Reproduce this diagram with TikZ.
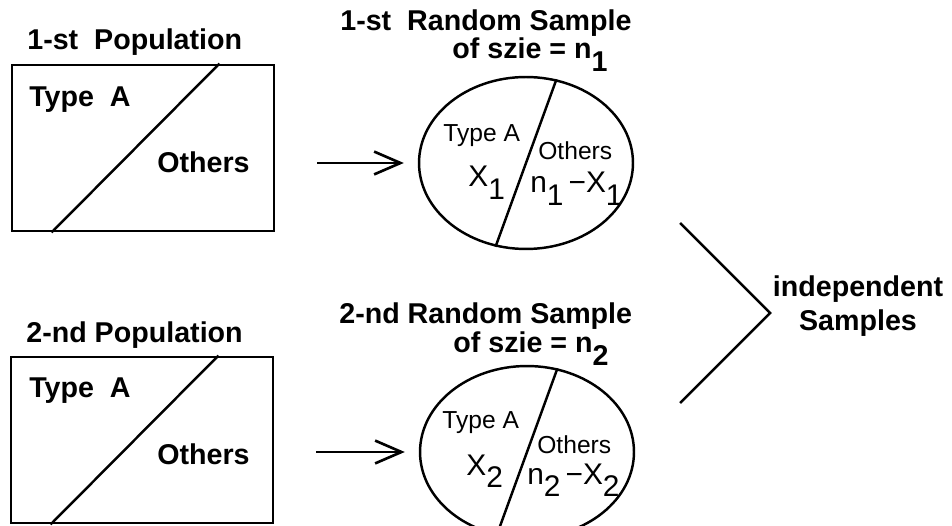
\documentclass[tikz,border=0pt]{standalone}
\usepackage{fontspec}
\setmainfont{Liberation Sans}
\usetikzlibrary{arrows.meta, positioning, shapes.geometric}
\newcommand{\lowidx}[1]{\raisebox{-0.42em}{#1}}

\begin{document}
\begin{tikzpicture}[
      x=0.02cm, y=-0.02cm,
      popbox/.style={draw, line width=1.6pt, minimum width=5.24cm, minimum height=3.32cm, inner sep=0pt},
      sampell/.style={draw, ellipse, line width=1.4pt, minimum width=4.28cm, minimum height=3.44cm, inner sep=0pt},
      ttl/.style={anchor=base west, inner sep=0pt, font=\fontsize{16.3}{19.4}\selectfont\bfseries},
      lbl/.style={anchor=base west, inner sep=0pt, font=\fontsize{14}{16}\selectfont},
      big/.style={anchor=base west, inner sep=0pt, font=\fontsize{17}{19}\selectfont},
      arr/.style={-{Straight Barb[length=15pt, width=13pt]}, line width=1.5pt},
      cut/.style={line width=1.4pt}
    ]
    \useasboundingbox (0,0) rectangle (952,526);

    % populations
    \node[popbox] (pop1) at (143,148) {};
    \node[popbox] (pop2) at (142,440) {};
    \draw[cut] ([xshift=-1.12cm]pop1.north east) -- ([xshift=0.82cm]pop1.south west);
    \draw[cut] ([xshift=-1.12cm]pop2.north east) -- ([xshift=0.82cm]pop2.south west);
    \node[ttl] (pop1t) at (27,50)   {1-st\ \ Population};
    \node[ttl] (pop1a) at (29,107)  {Type\ \ A};
    \node[ttl] (pop1o) at (157,173) {Others};
    \node[ttl] (pop2t) at (26,342)  {2-nd Population};
    \node[ttl] (pop2a) at (29,398)  {Type\ \ A};
    \node[ttl] (pop2o) at (157,464) {Others};

    % samples
    \node[sampell] (samp1) at (526,163) {};
    \node[sampell] (samp2) at (527,452) {};
    \draw[cut] (samp1.70) -- (samp1.250);
    \draw[cut] (samp2.70) -- (samp2.250);
    \node[ttl] (samp1t) at (340,31)  {1-st\ \ Random Sample};
    \node[ttl] (samp1n) at (452,59)  {of szie = n\lowidx{1}};
    \node[ttl] (samp2t) at (339,324) {2-nd Random Sample};
    \node[ttl] (samp2n) at (453,353) {of szie = n\lowidx{2}};
    \node[lbl] (samp1a) at (443,142) {Type A};
    \node[big] (samp1x) at (468,187) {X\lowidx{1}};
    \node[lbl] (samp1o) at (538,160) {Others};
    \node[big] (samp1r) at (530,193) {n\lowidx{1}\,−X\lowidx{1}};
    \node[lbl] (samp2a) at (442,428) {Type A};
    \node[big] (samp2x) at (466,475) {X\lowidx{2}};
    \node[lbl] (samp2o) at (537,453) {Others};
    \node[big] (samp2r) at (527,484) {n\lowidx{2}\,−X\lowidx{2}};

    \draw[arr, shorten <=0.84cm, shorten >=0.28cm] (pop1.east |- samp1.west) -- (samp1.west);
    \draw[arr, shorten <=0.84cm, shorten >=0.28cm] (pop2.east |- samp2.west) -- (samp2.west);

    % independent
    \node[ttl, anchor=center, align=center] (indep) at (858,306) {independent\\Samples};
    \coordinate (chevtop) at (680,223);
    \coordinate (chevtip) at (770,313);
    \coordinate (chevbot) at (680,403);
    \draw[cut] (chevtop) -- (chevtip) -- (chevbot);
  \end{tikzpicture}
\end{document}
